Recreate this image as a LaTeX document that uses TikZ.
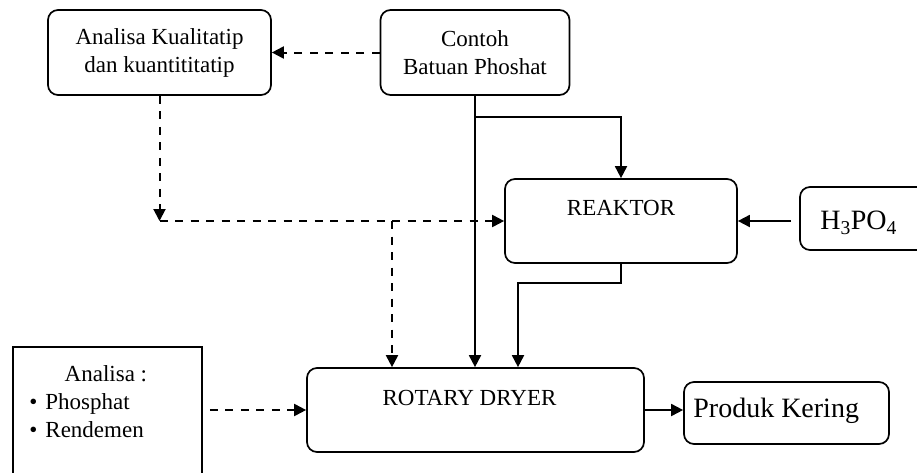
\documentclass[tikz,border=0pt]{standalone}
\usepackage{fontspec}
\setmainfont{Liberation Serif}
\usetikzlibrary{arrows.meta,calc}
\begin{document}
\begin{tikzpicture}[x=1pt,y=-1pt,
  every node/.style={font=\fontsize{23}{28}\selectfont},
  box/.style={draw,line width=1.7pt,rounded corners=10pt,inner sep=0pt},
  sqbox/.style={draw,line width=1.6pt,inner sep=0pt},
  arr/.style={line width=1.8pt,-{Triangle[length=12pt,width=12pt]}},
  darr/.style={arr,line width=2pt,dash pattern=on 8pt off 7.5pt},
  lbl/.style={inner sep=0pt}]
\clip (0,0) rectangle (917,472);
% boxes
\node[box,minimum width=223pt,minimum height=85pt,align=center] (ak) at (159.5,52.5) {Analisa Kualitatip\\dan kuantititatip};
\node[box,minimum width=189pt,minimum height=85pt,align=center] (contoh) at (475,52.5) {Contoh\\Batuan Phoshat};
\node[box,minimum width=232pt,minimum height=84pt,
  label={[lbl,anchor=north,yshift=-22pt]north:REAKTOR}] (reaktor) at (621,221) {};
\node[box,minimum width=160pt,minimum height=63pt,
  label={[lbl,anchor=west,xshift=21pt,yshift=-4.5pt,font=\fontsize{28}{32}\selectfont]west:H\textsubscript{3}PO\textsubscript{4}}] (h3) at (880,218.5) {};
\node[box,minimum width=337pt,minimum height=84pt,
  label={[lbl,anchor=north,yshift=-23pt,xshift=-6pt]north:ROTARY DRYER}] (rotary) at (475.5,410) {};
\node[box,minimum width=205pt,minimum height=62pt,
  label={[lbl,anchor=west,xshift=10pt,yshift=2.5pt,font=\fontsize{28}{32}\selectfont]west:Produk Kering}] (produk) at (786.5,413) {};
\node[sqbox,minimum width=189pt,minimum height=143pt,
  label={[lbl,anchor=north west,align=left,xshift=17pt,yshift=-19pt]north west:{\makebox[153pt]{Analisa :}\\\textbullet\hspace{8pt}Phosphat\\\textbullet\hspace{8pt}Rendemen}}] (an) at (107.5,418.5) {};
% connectors
\draw[darr] (contoh.west) -- (ak.east);
\coordinate (j1) at (ak.south |- reaktor.west);
\draw[darr] (ak.south) -- (j1);
\draw[darr] (j1) -- (reaktor.west);
\coordinate (j2) at ($(j1)+(232.5,0)$);
\draw[darr] (j2) -- (j2 |- rotary.north);
\draw[arr] (contoh.south) -- (contoh.south |- rotary.north);
\coordinate (b1) at ($(contoh.south)+(0,21)$);
\draw[arr] (b1) -| (reaktor.north);
\draw[arr] (reaktor.south) -- ++(0,19) -| ($(rotary.north)+(42.5,0)$);
\coordinate (h3in) at ([xshift=-8pt]h3.west);
\draw[arr] (h3in |- reaktor.east) -- (reaktor.east);
\draw[arr] (rotary.east) -- (rotary.east -| produk.west);
\coordinate (anout) at ([xshift=7pt]an.east);
\draw[darr] (anout |- rotary.west) -- (rotary.west);
\end{tikzpicture}
\end{document}
